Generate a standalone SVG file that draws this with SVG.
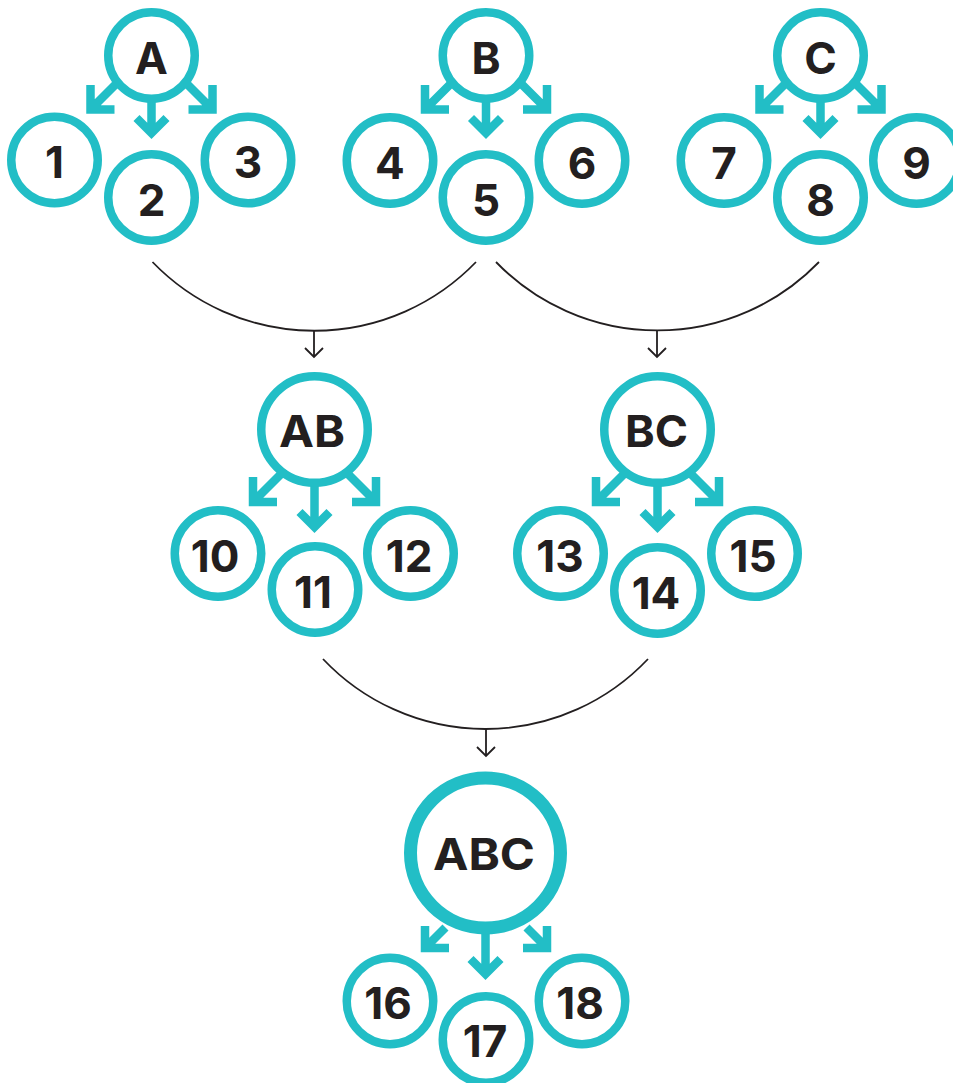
<svg xmlns="http://www.w3.org/2000/svg" width="953" height="1083" viewBox="0 0 953 1083">
  <defs>
    <style>
      .ring { fill: #ffffff; stroke: #22bec6; stroke-width: 8.5; }
      .ring-big { fill: #ffffff; stroke: #22bec6; stroke-width: 13; }
      .lbl { font-family: Inter, "Liberation Sans", sans-serif; font-weight: 700; font-size: 44px; fill: #231f20; text-anchor: middle; }
      .tarrow { fill: none; stroke: #22bec6; stroke-width: 8.5; stroke-linejoin: miter; stroke-linecap: butt; }
      .merge { fill: none; stroke: #231f20; stroke-width: 1.8; }
    </style>
  </defs>
  <rect width="953" height="1083" fill="#ffffff"/>

  <!-- connectors: merge curves and the teal fan-out arrows -->
  <g id="connectors">
    <!-- thin merge arcs with drop arrows -->
    <path class="merge" d="M152.5,262 A224.7,224.7 0 0 0 476,262"/>
    <path class="merge" d="M314,331 V357 M305,348 L314,357 L323,348"/>
    <path class="merge" d="M496,262 A224.7,224.7 0 0 0 819,262"/>
    <path class="merge" d="M657,331 V357 M648,348 L657,357 L666,348"/>
    <path class="merge" d="M323,659 A223.6,223.6 0 0 0 648,659"/>
    <path class="merge" d="M486,729 V756 M477,747 L486,756 L495,747"/>

    <!-- fan-out arrows, small parents -->
    <g transform="translate(151.5,55.5)">
      <path class="tarrow" d="M-61,54 L-25,18 M-61,29.5 V54 H-37 M61,54 L25,18 M61,29.5 V54 H37 M0,30 V77.5 M-15,62.5 L0,77.5 L15,62.5"/>
    </g>
    <g transform="translate(486,55.5)">
      <path class="tarrow" d="M-61,54 L-25,18 M-61,29.5 V54 H-37 M61,54 L25,18 M61,29.5 V54 H37 M0,30 V77.5 M-15,62.5 L0,77.5 L15,62.5"/>
    </g>
    <g transform="translate(820.5,55.5)">
      <path class="tarrow" d="M-61,54 L-25,18 M-61,29.5 V54 H-37 M61,54 L25,18 M61,29.5 V54 H37 M0,30 V77.5 M-15,62.5 L0,77.5 L15,62.5"/>
    </g>
    <!-- fan-out arrows, pair parents -->
    <g transform="translate(314.5,429.5)">
      <path class="tarrow" d="M-61.5,72.5 L-30,41 M-61.5,47.5 V72.5 H-37.5 M61.5,72.5 L30,41 M61.5,47.5 V72.5 H37.5 M0,40 V97.5 M-15,82.5 L0,97.5 L15,82.5"/>
    </g>
    <g transform="translate(657.5,429.5)">
      <path class="tarrow" d="M-61.5,72.5 L-30,41 M-61.5,47.5 V72.5 H-37.5 M61.5,72.5 L30,41 M61.5,47.5 V72.5 H37.5 M0,40 V97.5 M-15,82.5 L0,97.5 L15,82.5"/>
    </g>
    <!-- fan-out arrows, final parent -->
    <g transform="translate(485.5,853)">
      <path class="tarrow" d="M-60.5,95 L-40,74.5 M-60.5,73 V95 H-36.5 M61.5,95 L41,74.5 M61.5,73 V95 H37.5 M0,60 V121 M-15,106 L0,121 L15,106"/>
    </g>
  </g>

  <!-- top row -->
  <g id="node-A"><circle class="ring" cx="151.5" cy="55.5" r="43.25"/><text class="lbl" x="151.5" y="74">A</text></g>
  <g id="node-1"><circle class="ring" cx="54.5" cy="160" r="43.25"/><text class="lbl" x="54.5" y="178">1</text></g>
  <g id="node-2"><circle class="ring" cx="151.5" cy="197.5" r="43.25"/><text class="lbl" x="151.5" y="216">2</text></g>
  <g id="node-3"><circle class="ring" cx="248" cy="160" r="43.25"/><text class="lbl" x="248" y="178">3</text></g>

  <g id="node-B"><circle class="ring" cx="486" cy="55.5" r="43.25"/><text class="lbl" x="486" y="74">B</text></g>
  <g id="node-4"><circle class="ring" cx="390" cy="160.5" r="43.25"/><text class="lbl" x="390" y="178.5">4</text></g>
  <g id="node-5"><circle class="ring" cx="486" cy="197.5" r="43.25"/><text class="lbl" x="486" y="216">5</text></g>
  <g id="node-6"><circle class="ring" cx="582" cy="160.5" r="43.25"/><text class="lbl" x="582" y="178.5">6</text></g>

  <g id="node-C"><circle class="ring" cx="820.5" cy="55.5" r="43.25"/><text class="lbl" x="820.5" y="74">C</text></g>
  <g id="node-7"><circle class="ring" cx="724" cy="160.5" r="43.25"/><text class="lbl" x="724" y="178.5">7</text></g>
  <g id="node-8"><circle class="ring" cx="820.5" cy="197.5" r="43.25"/><text class="lbl" x="820.5" y="216">8</text></g>
  <g id="node-9"><circle class="ring" cx="916.5" cy="160.5" r="43.25"/><text class="lbl" x="916.5" y="178.5">9</text></g>

  <!-- middle row -->
  <g id="node-AB"><circle class="ring" cx="314.5" cy="429.5" r="53.25"/><text class="lbl" x="312" y="447" textLength="66" lengthAdjust="spacingAndGlyphs">AB</text></g>
  <g id="node-10"><circle class="ring" cx="218" cy="553.5" r="43.25"/><text class="lbl" x="215" y="572">10</text></g>
  <g id="node-11"><circle class="ring" cx="315" cy="589.5" r="43.25"/><text class="lbl" x="313" y="608">11</text></g>
  <g id="node-12"><circle class="ring" cx="410.5" cy="553.5" r="43.25"/><text class="lbl" x="409" y="572">12</text></g>

  <g id="node-BC"><circle class="ring" cx="657.5" cy="429.5" r="53.25"/><text class="lbl" x="656.5" y="447" textLength="63" lengthAdjust="spacingAndGlyphs">BC</text></g>
  <g id="node-13"><circle class="ring" cx="560.5" cy="553.5" r="43.25"/><text class="lbl" x="560" y="572">13</text></g>
  <g id="node-14"><circle class="ring" cx="657.5" cy="590.5" r="43.25"/><text class="lbl" x="656" y="609">14</text></g>
  <g id="node-15"><circle class="ring" cx="754.5" cy="553.5" r="43.25"/><text class="lbl" x="753" y="572">15</text></g>

  <!-- bottom row -->
  <g id="node-ABC"><circle class="ring-big" cx="485.5" cy="853" r="75"/><text class="lbl" x="484" y="870" textLength="102" lengthAdjust="spacingAndGlyphs">ABC</text></g>
  <g id="node-16"><circle class="ring" cx="390" cy="1001" r="43.25"/><text class="lbl" x="388" y="1019">16</text></g>
  <g id="node-17"><circle class="ring" cx="486" cy="1039.5" r="43.25"/><text class="lbl" x="485" y="1057">17</text></g>
  <g id="node-18"><circle class="ring" cx="582" cy="1001" r="43.25"/><text class="lbl" x="580" y="1019">18</text></g>
</svg>
